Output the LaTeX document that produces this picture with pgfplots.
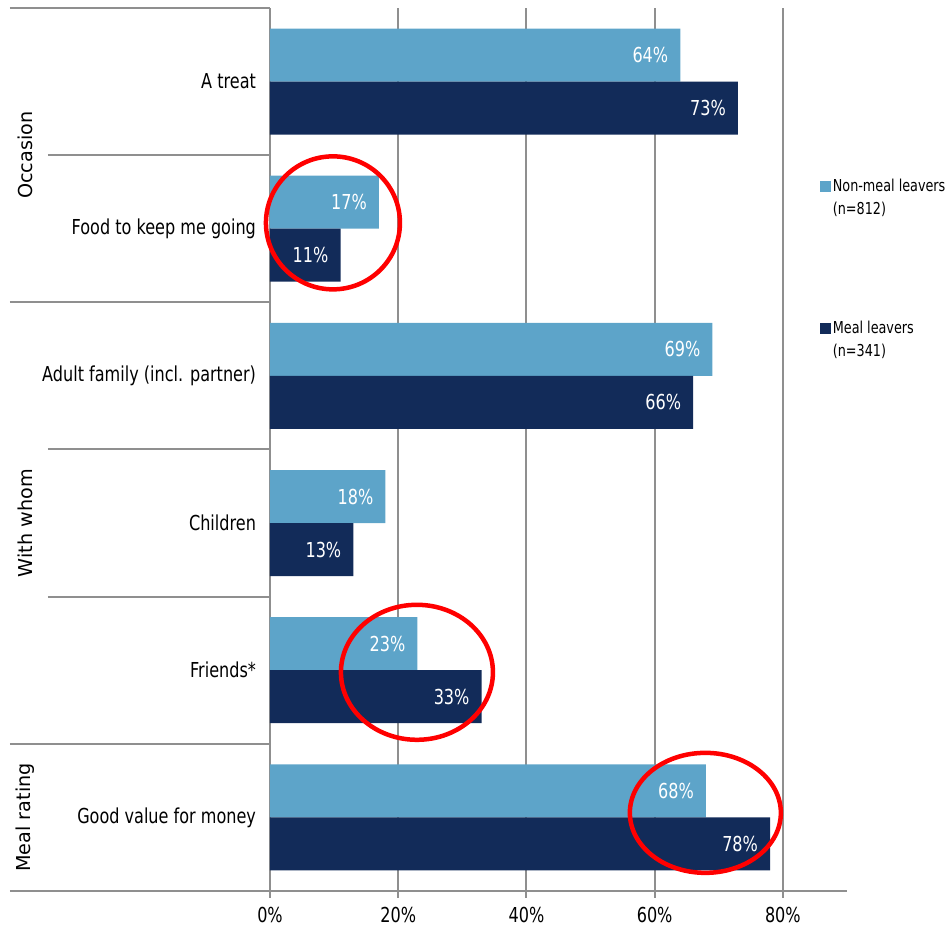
\documentclass[border=0pt]{standalone}
\usepackage{pgfplots}
\pgfplotsset{compat=1.18}
\usepackage{fontspec}
\setmainfont{DejaVu Sans}[FakeStretch=0.78]
\newfontfamily\rotfont{DejaVu Sans}
\definecolor{lightbar}{HTML}{5DA4C9}
\definecolor{darkbar}{HTML}{122B59}
\definecolor{gridgray}{HTML}{8F8F8F}
\definecolor{annot}{HTML}{FF0000}
\begin{document}
\begin{tikzpicture}
\path[use as bounding box] (-135pt,-19pt) rectangle (338.5pt,445.5pt);
\begin{axis}[
  at={(0,0)}, anchor=south west,
  scale only axis, width=288.5pt, height=441.5pt,
  xbar, bar width=26.5pt,
  xmin=0, xmax=90, ymin=-0.5, ymax=5.5,
  clip=false,
  axis x line*=bottom, axis y line*=left,
  axis line style={gridgray, line width=1pt, -},
  xtick={0,20,40,60,80},
  xticklabel={\pgfmathprintnumber[assume math mode=true]{\tick}\%},
  x tick style={gridgray, line width=1pt},
  major tick length=3.5pt, tick align=outside,
  xmajorgrids, grid style={gridgray, line width=1pt},
  ytick={0,1,2,3,4,5},
  yticklabels={Good value for money, Friends*, Children, Adult family (incl. partner), Food to keep me going, A treat},
  y tick style={draw=none},
  tick label style={font=\fontsize{10.3}{12}\selectfont},
  xticklabel style={yshift=-1pt},
  nodes near coords={\pgfmathprintnumber[assume math mode=true]{\pgfplotspointmeta}\%},
  every node near coord/.append style={anchor=east, text=white, xshift=-2.5pt, font=\fontsize{10.3}{12}\selectfont},
  legend style={at={(0.953,0.8086)}, anchor=north west, draw=none, fill=none, inner sep=0pt, row sep=50pt, font=\fontsize{8.2}{11.5}\selectfont, nodes={inner sep=0.8pt, align=left}},
  legend cell align=left,
  legend image code/.code={\path[#1, draw=none] (0pt,3pt) rectangle (5.5pt,8.5pt);},
]
\addplot[fill=lightbar, draw=none, bar shift=13.25pt] coordinates {(64,5) (17,4) (69,3) (18,2) (23,1) (68,0)};
\addlegendentry{{Non-meal leavers\\(n=812)}}
\addplot[fill=darkbar, draw=none, bar shift=-13.25pt] coordinates {(73,5) (11,4) (66,3) (13,2) (33,1) (78,0)};
\addlegendentry{{Meal leavers\\(n=341)}}

% category separators
\draw[gridgray, line width=1pt] ([xshift=-130pt]axis cs:0,5.5) -- (axis cs:0,5.5);
\draw[gridgray, line width=1pt] ([xshift=-111pt]axis cs:0,4.5) -- (axis cs:0,4.5);
\draw[gridgray, line width=1pt] ([xshift=-130pt]axis cs:0,3.5) -- (axis cs:0,3.5);
\draw[gridgray, line width=1pt] ([xshift=-111pt]axis cs:0,2.5) -- (axis cs:0,2.5);
\draw[gridgray, line width=1pt] ([xshift=-111pt]axis cs:0,1.5) -- (axis cs:0,1.5);
\draw[gridgray, line width=1pt] ([xshift=-130pt]axis cs:0,0.5) -- (axis cs:0,0.5);
\draw[gridgray, line width=1pt] ([xshift=-130pt]axis cs:0,-0.5) -- (axis cs:0,-0.5);

% group labels
\node[rotate=90, font=\rotfont\fontsize{9.6}{11}\selectfont] at ([xshift=-122.5pt]axis cs:0,4.5) {Occasion};
\node[rotate=90, font=\rotfont\fontsize{9.6}{11}\selectfont] at ([xshift=-122.5pt]axis cs:0,2) {With whom};
\node[rotate=90, font=\rotfont\fontsize{9.6}{11}\selectfont] at ([xshift=-122.5pt]axis cs:0,0) {Meal rating};

% red highlight ellipses
\draw[annot, line width=2.25pt] (axis cs:9.82,4.04) ellipse [x radius=33.5pt, y radius=33.25pt];
\draw[annot, line width=2.25pt] (axis cs:22.92,0.986) ellipse [x radius=38pt, y radius=33.75pt];
\draw[annot, line width=2.25pt] (axis cs:67.91,0.031) ellipse [x radius=37.75pt, y radius=30pt];
\end{axis}
\end{tikzpicture}
\end{document}
